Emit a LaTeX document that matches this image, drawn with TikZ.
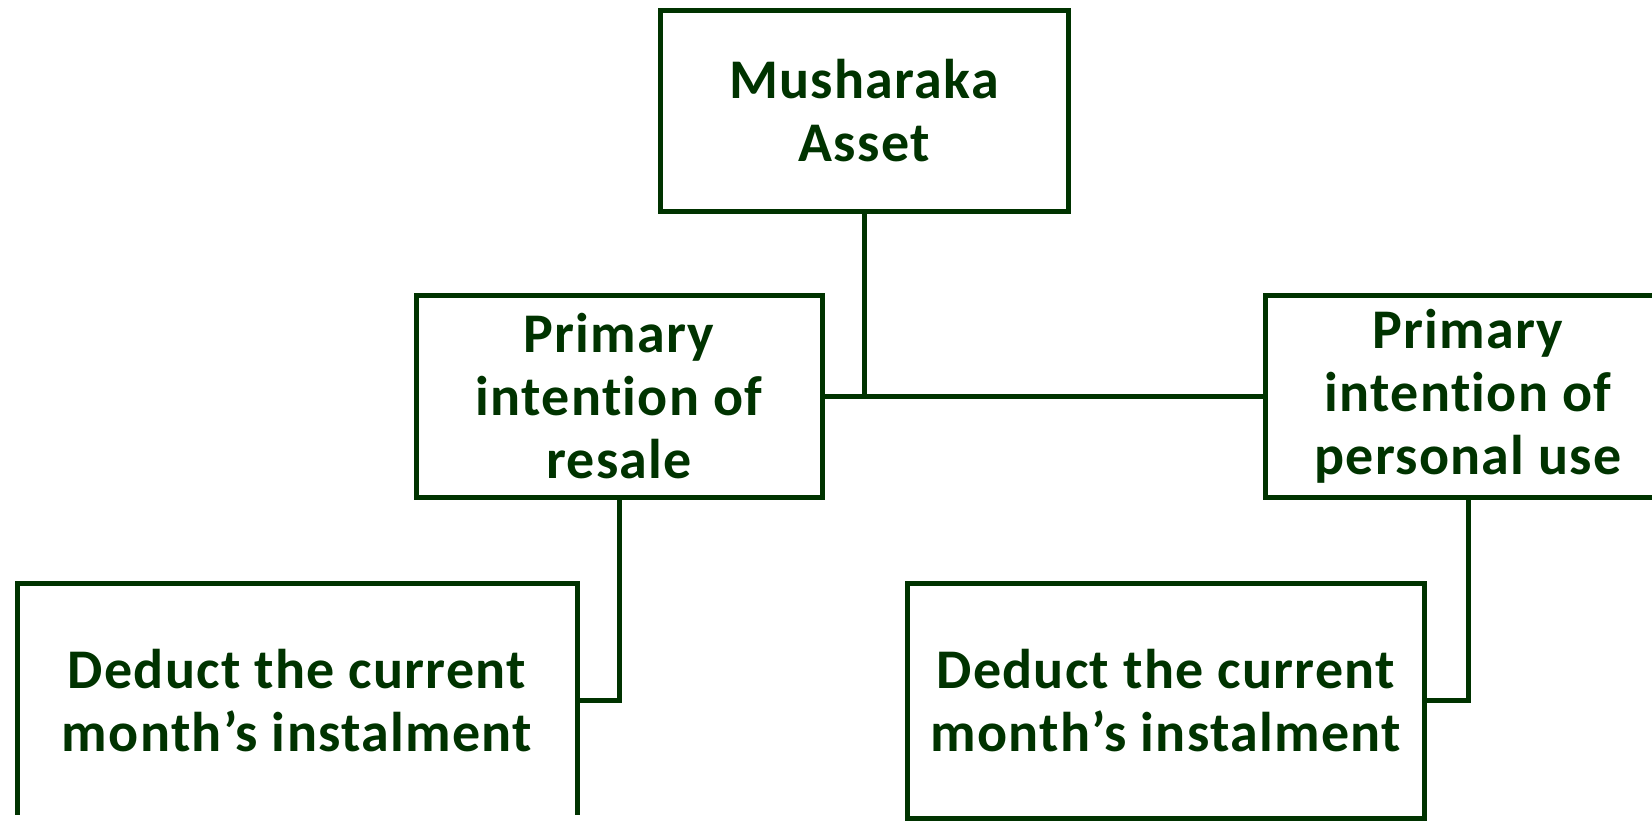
\documentclass[tikz,border=0pt]{standalone}
\usepackage{fontspec}
\setmainfont{Carlito}[LetterSpace=2.3, Ligatures=CommonOff]
\usetikzlibrary{positioning}
\definecolor{musgreen}{RGB}{0,51,0}

\begin{document}
\begin{tikzpicture}
[x=0.5pt, y=-0.5pt, line width=2.5pt, draw=musgreen,
box/.style={draw=musgreen, rectangle, inner sep=0pt, align=center,
  text=musgreen, font=\fontsize{28pt}{31.5pt}\selectfont\bfseries},
upper/.style={box, minimum width=203pt, minimum height=101pt},
lower/.style={box, minimum height=117.5pt}
]
  \clip (0,0) rectangle (1652,821);
  \useasboundingbox (0,0) rectangle (1652,821);

  \node[box, minimum width=204pt, minimum height=100.5pt] (asset) at (864,111) {Musharaka\\Asset};
  \node[upper] (resale)   at (619,396)  {Primary\\intention of\\resale};
  \node[upper] (personal) at (1468,396) {Primary\\intention of\\personal use};
  \begin{scope}
    \clip (0,0) rectangle (700,814);
    \node[lower, minimum width=280pt] (dedl) at (297,700.5) {Deduct the current\\month’s instalment};
  \end{scope}
  \node[lower, minimum width=258.75pt] (dedr) at (1165.75,700.5) {Deduct the current\\month’s instalment};

  \draw[musgreen] (asset.south) -- (asset.south |- resale.east);
  \draw[musgreen] (resale.east) -- (personal.west);
  \draw[musgreen] (resale.south) |- (dedl.east);
  \draw[musgreen] (personal.south) |- (dedr.east);
\end{tikzpicture}
\end{document}
